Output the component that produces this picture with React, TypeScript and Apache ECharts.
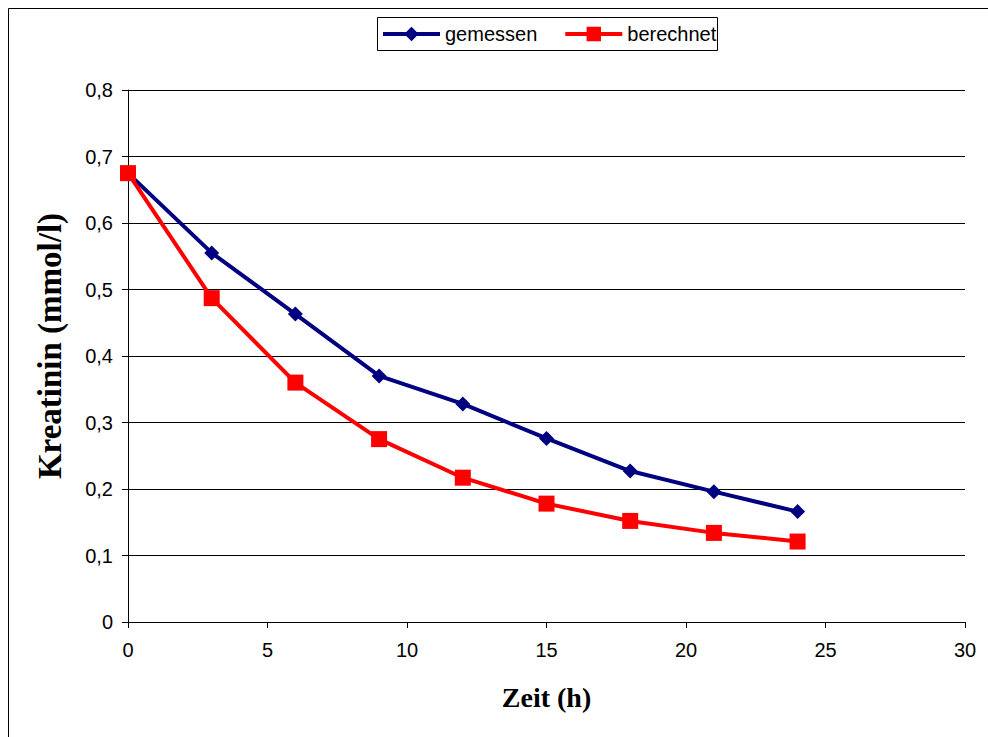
import React, { useEffect, useRef } from "react";
import * as echarts from "echarts";

const hours = [0, 3, 6, 9, 12, 15, 18, 21, 24];
const gemessen = [0.675, 0.555, 0.463, 0.37, 0.328, 0.276, 0.227, 0.196, 0.166];
const berechnet = [0.675, 0.487, 0.36, 0.275, 0.217, 0.178, 0.152, 0.134, 0.121];

export default function App() {
  const ref = useRef<HTMLDivElement>(null);
  useEffect(() => {
    const chart = echarts.init(ref.current!, null, { renderer: "svg" });
    const sans = "Liberation Sans, Arial, sans-serif";
    const serif = "Liberation Serif, Times New Roman, serif";
    chart.setOption({
      animation: false,
      backgroundColor: "#fff",
      graphic: [
        {
          type: "rect",
          shape: { x: 8.5, y: 8.5, width: 1000, height: 760 },
          style: { fill: "none", stroke: "#000", lineWidth: 1 },
          silent: true,
        },
        {
          type: "rect",
          shape: { x: 377.5, y: 17.5, width: 340, height: 33 },
          style: { fill: "#fff", stroke: "#000", lineWidth: 1 },
          silent: true,
          z: -1,
        },
      ],
      legend: {
        top: 24,
        left: 381,
        padding: 0,
        itemGap: 26,
        itemWidth: 57,
        itemHeight: 18,
        lineStyle: { width: 4 },
        textStyle: { fontFamily: sans, fontSize: 20, color: "#000", padding: [0, 0, 0, 0] },
        data: ["gemessen", "berechnet"],
      },
      grid: { left: 128, right: 23, top: 90, bottom: 115 },
      xAxis: {
        type: "value",
        min: 0,
        max: 30,
        interval: 5,
        name: "Zeit (h)",
        nameLocation: "middle",
        nameGap: 61,
        nameTextStyle: { fontFamily: serif, fontSize: 28, fontWeight: "bold", color: "#000" },
        axisLine: { show: true, onZero: false, lineStyle: { color: "#000", width: 1 } },
        axisTick: { show: true, inside: false, length: 6, lineStyle: { color: "#000" } },
        axisLabel: { fontFamily: sans, fontSize: 20, color: "#000", margin: 18 },
        splitLine: { show: false },
      },
      yAxis: {
        type: "value",
        min: 0,
        max: 0.8,
        interval: 0.1,
        name: "Kreatinin (mmol/l)",
        nameLocation: "middle",
        nameGap: 62,
        nameRotate: 90,
        nameTextStyle: {
          fontFamily: serif,
          fontSize: 33,
          fontWeight: "bold",
          color: "#000",
          padding: [0, 0, 0, 20],
        },
        axisLine: { show: true, lineStyle: { color: "#000", width: 1 } },
        axisTick: { show: true, inside: false, length: 6, lineStyle: { color: "#000" } },
        axisLabel: {
          fontFamily: sans,
          fontSize: 20,
          color: "#000",
          margin: 15,
          formatter: (v: number) => (v === 0 ? "0" : v.toFixed(1).replace(".", ",")),
        },
        splitLine: { show: true, lineStyle: { color: "#000", width: 1 } },
      },
      series: [
        {
          name: "gemessen",
          type: "line",
          data: hours.map((h, i) => [h, gemessen[i]]),
          symbol: "diamond",
          symbolSize: 15,
          color: "#000080",
          lineStyle: { color: "#000080", width: 4 },
          itemStyle: { color: "#000080" },
          z: 2,
        },
        {
          name: "berechnet",
          type: "line",
          data: hours.map((h, i) => [h, berechnet[i]]),
          symbol: "rect",
          symbolSize: 16,
          color: "#ff0000",
          lineStyle: { color: "#ff0000", width: 4 },
          itemStyle: { color: "#ff0000" },
          z: 3,
        },
      ],
    });
    return () => chart.dispose();
  }, []);
  return <div ref={ref} style={{ width: 988, height: 737, position: "absolute", left: 0, top: 0 }} />;
}
